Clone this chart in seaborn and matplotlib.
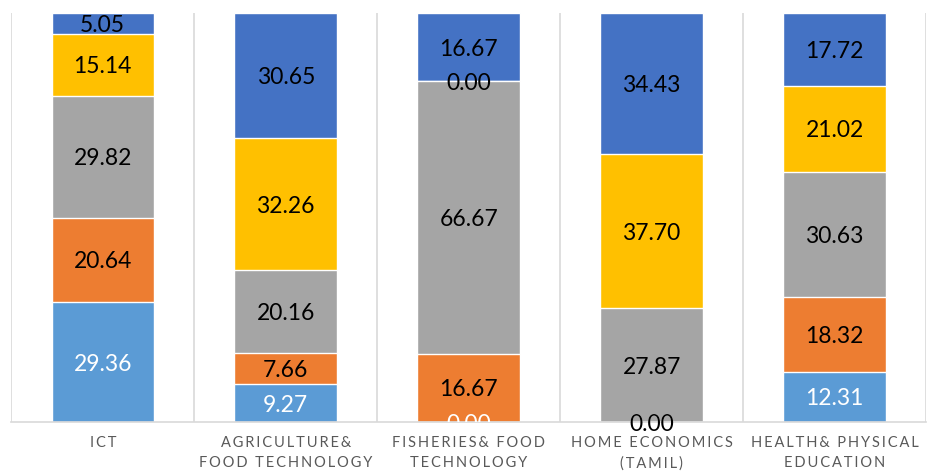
import numpy as np
import pandas as pd
import matplotlib.pyplot as plt
import seaborn as sns

# data (percent per subject)
categories = ["ICT", "AGRICULTURE&\nFOOD TECHNOLOGY", "FISHERIES& FOOD\nTECHNOLOGY",
              "HOME ECONOMICS\n(TAMIL)", "HEALTH& PHYSICAL\nEDUCATION"]
series_1 = [29.36, 9.27, 0.00, 0.00, 12.31]
series_2 = [20.64, 7.66, 16.67, 0.00, 18.32]
series_3 = [29.82, 20.16, 66.67, 27.87, 30.63]
series_4 = [15.14, 32.26, 0.00, 37.70, 21.02]
series_5 = [5.05, 30.65, 16.67, 34.43, 17.72]

colors = ["#5B9BD5", "#ED7D31", "#A5A5A5", "#FFC000", "#4472C4"]
label_colors = ["white", "black", "black", "black", "black"]

sns.set_theme(style="white")
plt.rcParams["font.family"] = ["Lato", "DejaVu Sans"]


def spaced(text):
    # imitate the letter spacing of the axis labels
    return "\n".join("\u2009".join(line) for line in text.split("\n"))


series = [series_1, series_2, series_3, series_4, series_5]
values = np.array(series)
tops = values.cumsum(axis=0)
df = pd.DataFrame({"category": np.tile(categories, len(series)),
                   "series": np.repeat(range(len(series)), len(categories)),
                   "value": values.ravel(),
                   "top": tops.ravel()})

fig, ax = plt.subplots(figsize=(9.42, 4.71), dpi=100)
fig.subplots_adjust(left=0.012, right=0.983, bottom=0.104, top=0.972)

# stacked bars: draw cumulative totals from the top segment down
for k in reversed(range(len(series))):
    sub = df[df["series"] == k]
    sns.barplot(data=sub, x="category", y="top", color=colors[k], width=0.56,
                saturation=1, ax=ax, zorder=2)

for k in range(len(series)):
    sub = df[df["series"] == k].reset_index(drop=True)
    for i, row in sub.iterrows():
        ax.text(i, row["top"] - row["value"] / 2, f"{row['value']:.2f}",
                ha="center", va="center_baseline", fontsize=16.5,
                color=label_colors[k], zorder=5, clip_on=(k == 0))

for x in np.arange(-0.5, len(categories), 1.0):
    ax.axvline(x, color="#d9d9d9", lw=1.2, zorder=1)

ax.set_xlim(-0.5, len(categories) - 0.5)
ax.set_ylim(0, 100)
ax.set_yticks([])
ax.set_xlabel("")
ax.set_ylabel("")
ax.set_xticks(range(len(categories)))
ax.set_xticklabels([spaced(c) for c in categories], fontsize=10.5, color="#595959",
                   linespacing=1.55)
ax.tick_params(axis="x", length=0, pad=10)
for side in ["top", "left", "right"]:
    ax.spines[side].set_visible(False)
ax.spines["bottom"].set_color("#d9d9d9")
ax.spines["bottom"].set_linewidth(1.2)

plt.savefig("out.png", dpi=100)
plt.close()
